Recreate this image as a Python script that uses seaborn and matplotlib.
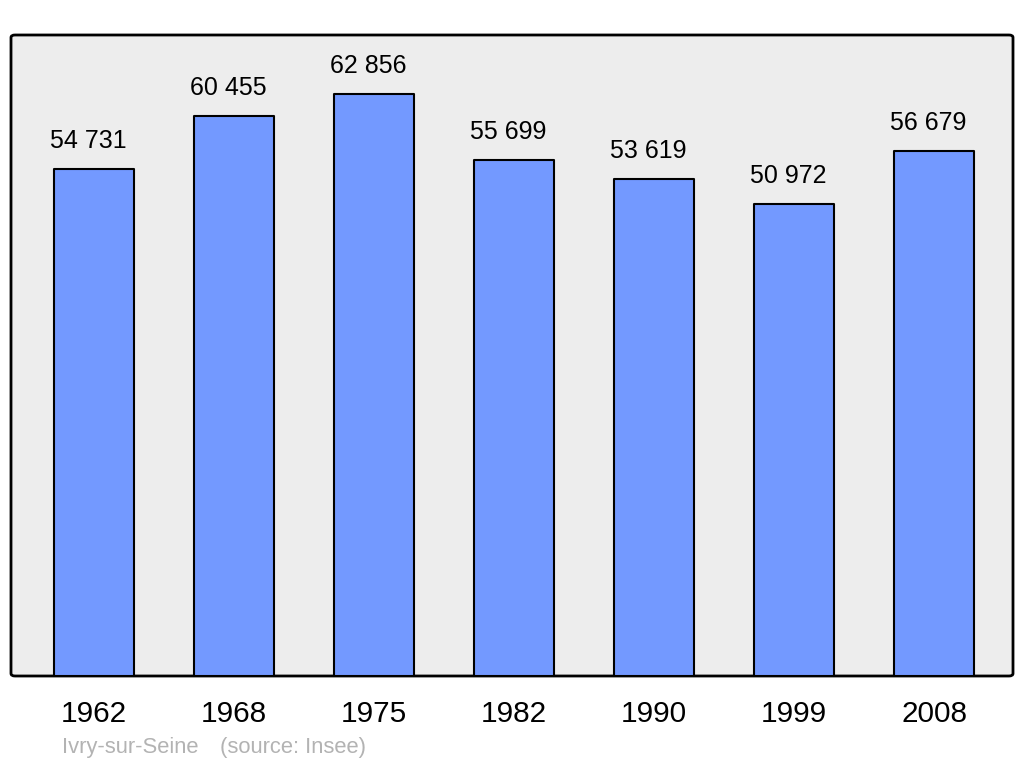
import matplotlib
matplotlib.use("Agg")
import matplotlib.pyplot as plt
import seaborn as sns
import pandas as pd
from matplotlib.patches import FancyBboxPatch

years = ["1962", "1968", "1975", "1982", "1990", "1999", "2008"]
population = [54731, 60455, 62856, 55699, 53619, 50972, 56679]
value_labels = ["54 731", "60 455", "62 856", "55 699", "53 619", "50 972", "56 679"]
caption_place = "Ivry-sur-Seine"
caption_source = "(source: Insee)"

sns.set_theme(style="white")
plt.rcParams["font.family"] = ["Liberation Sans", "DejaVu Sans"]

fig = plt.figure(figsize=(10.24, 7.65), dpi=100)
ax = fig.add_axes([11/1024, (765-676)/765, 1002/1024, 641/765])
ax.set_facecolor("none")

# rounded frame drawn behind the bars
frame = FancyBboxPatch((0, 0), 1, 1, boxstyle="round,pad=0,rounding_size=0.004",
                       transform=ax.transAxes, facecolor="#ededed",
                       edgecolor="black", linewidth=2, zorder=0, clip_on=False)
ax.add_patch(frame)

df = pd.DataFrame({"year": years, "pop": population})
sns.barplot(data=df, x="year", y="pop", color="#7399ff", saturation=1,
            edgecolor="black", linewidth=1.5, width=0.571, ax=ax, zorder=2)

for p in ax.patches:
    if p is not frame:
        p.set_joinstyle("round")

ax.set_xlim(-0.593, 6.564)
ax.set_ylim(0, 69200)

for i, (v, lab) in enumerate(zip(population, value_labels)):
    ax.annotate(lab, xy=(i - 0.04, v), xytext=(0, 15.0), textcoords="offset points",
                ha="center", va="baseline", fontsize=18, color="black")

ax.set_xlabel("")
ax.set_ylabel("")
ax.set_yticks([])
ax.tick_params(axis="x", length=0, pad=17, labelsize=21.4, labelcolor="black")
for s in ax.spines.values():
    s.set_visible(False)

fig.text(62/1024, 1 - 747/765, caption_place, fontsize=15.8, color="#b3b3b3",
         ha="left", va="center")
fig.text(220/1024, 1 - 747/765, caption_source, fontsize=15.8, color="#b3b3b3",
         ha="left", va="center")

fig.savefig("out.png", dpi=100, facecolor="white")
